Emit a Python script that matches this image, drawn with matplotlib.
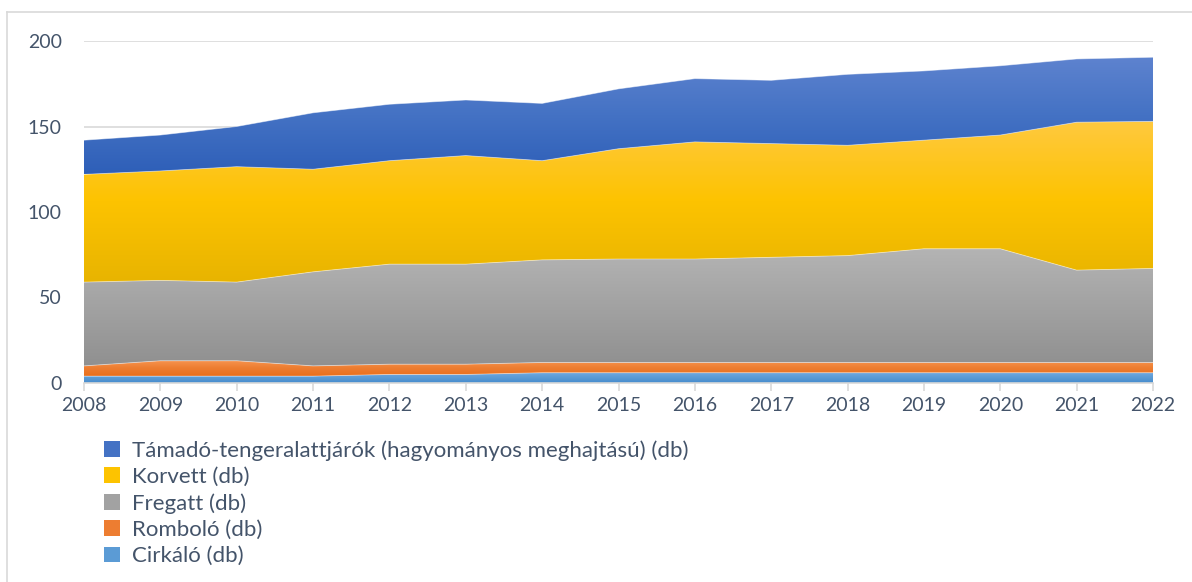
import numpy as np
import matplotlib
matplotlib.use('Agg')
import matplotlib.pyplot as plt
from matplotlib.patches import Patch
from matplotlib.lines import Line2D
from matplotlib.colors import LinearSegmentedColormap

years = [2008, 2009, 2010, 2011, 2012, 2013, 2014, 2015, 2016, 2017, 2018, 2019, 2020, 2021, 2022]
cirkalo = [4, 4, 4, 4, 5, 5, 6, 6, 6, 6, 6, 6, 6, 6, 6]
rombolo = [6, 9, 9, 6, 6, 6, 6, 6, 6, 6, 6, 6, 6, 6, 6]
fregatt = [49, 47, 46, 55, 58.5, 58.5, 60, 60.5, 60.5, 61.5, 62.5, 66.5, 66.5, 54, 55]
korvett = [63, 64, 67.5, 60, 60.5, 63.5, 58, 64.5, 68.5, 66.5, 64.5, 63.5, 66.5, 86.5, 86]
tengeralattjaro = [20, 21, 23.5, 33, 33, 32.5, 33.5, 35, 37, 37, 41.5, 40.5, 40.5, 37, 37.5]

labels = ['Cirkáló (db)', 'Romboló (db)', 'Fregatt (db)', 'Korvett (db)',
          'Támadó-tengeralattjárók (hagyományos meghajtású) (db)']
# (bottom, middle, top) colours of each vertical gradient
grads = [('#468bcd', '#5b9bd5', '#73abe0'),
         ('#e96f1c', '#ed7d31', '#f79550'),
         ('#909090', '#a2a2a2', '#b4b4b4'),
         ('#e8b400', '#fdc300', '#ffc93f'),
         ('#2e5fb8', '#4472c4', '#5e83cf')]
text_col = '#44546a'

plt.rcParams['font.family'] = ['Lato', 'DejaVu Sans']

fig = plt.figure(figsize=(11.92, 5.82), dpi=100)
ax = fig.add_axes([84 / 1192, 1 - 383 / 582, (1153 - 84) / 1192, (383 - 41) / 582])

x = np.array(years, dtype=float)
series = [cirkalo, rombolo, fregatt, korvett, tengeralattjaro]
base = np.zeros(len(years))
for vals, cols in zip(series, grads):
    top = base + np.array(vals, dtype=float)
    poly = ax.fill_between(x, base, top, facecolor='none', edgecolor='none')
    cmap = LinearSegmentedColormap.from_list('g', list(cols))
    grad = np.linspace(0, 1, 256).reshape(-1, 1)
    im = ax.imshow(grad, cmap=cmap, aspect='auto', origin='lower',
                   extent=[x[0], x[-1], base.min(), top.max()], zorder=2)
    im.set_clip_path(poly.get_paths()[0], transform=ax.transData)
    ax.plot(x, top, color='white', lw=0.6, alpha=0.5, zorder=3)
    base = top

ax.set_xlim(2008, 2022)
ax.set_ylim(0, 200)
ax.set_yticks([0, 50, 100, 150, 200])
ax.set_xticks(years)
ax.grid(axis='y', color='#d9d9d9', lw=1.2, zorder=0)
ax.set_axisbelow(True)
for s in ['top', 'right', 'left']:
    ax.spines[s].set_visible(False)
ax.spines['bottom'].set_color('#d9d9d9')
ax.spines['bottom'].set_linewidth(1.2)
ax.spines['bottom'].set_zorder(4)
ax.tick_params(axis='y', length=0, pad=16, labelsize=14, labelcolor=text_col)
ax.tick_params(axis='x', length=6, width=1.2, color='#d9d9d9', pad=4,
               labelsize=14, labelcolor=text_col)

handles = [Patch(facecolor=grads[i][1], edgecolor='none') for i in range(4, -1, -1)]
leg_labels = [labels[i] for i in range(4, -1, -1)]
leg = fig.legend(handles, leg_labels, loc='upper left', bbox_to_anchor=(104 / 1192, 1 - 440 / 582),
                 frameon=False, fontsize=16, handlelength=0.7, handleheight=0.7,
                 handletextpad=0.55, labelspacing=0.28, borderaxespad=0, borderpad=0)
for t in leg.get_texts():
    t.set_color(text_col)

# chart frame
fig.add_artist(Line2D([7.5 / 1192, 7.5 / 1192], [0, 1 - 11.5 / 582], color='#d9d9d9', lw=1.2))
fig.add_artist(Line2D([7.5 / 1192, 1], [1 - 11.5 / 582, 1 - 11.5 / 582], color='#d9d9d9', lw=1.2))

fig.savefig('out.png', dpi=100)
